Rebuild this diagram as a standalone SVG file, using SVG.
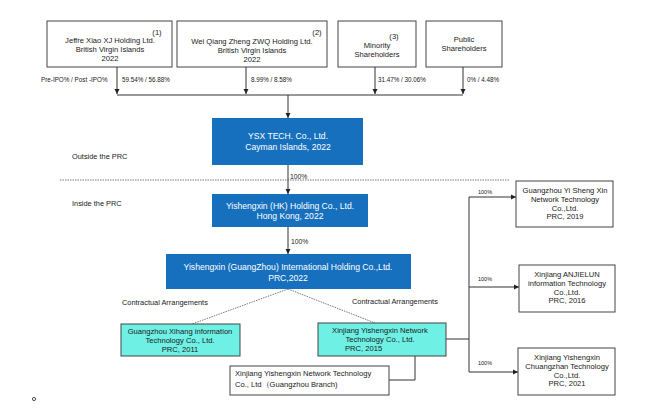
<svg xmlns="http://www.w3.org/2000/svg" width="666" height="411" viewBox="0 0 666 411">
<defs>
<marker id="ah" markerWidth="6" markerHeight="6" refX="5" refY="3" orient="auto" markerUnits="userSpaceOnUse">
<path d="M0,0.5 L5,3 L0,5.5 Z" fill="#222"/>
</marker>
<style>
text{font-family:"Liberation Sans",Arial,sans-serif;fill:#1a1a1a}
.box{fill:#fff;stroke:#444;stroke-width:1}
.blue{fill:#1670bd}
.cyan{fill:#6ff0e4;stroke:#444;stroke-width:1}
.wt{fill:#fff;font-size:8.6px;text-anchor:middle}
.t{font-size:7.6px;text-anchor:middle}
.s{font-size:6.3px}
.ln{fill:none;stroke:#333;stroke-width:1}
.dl{fill:none;stroke:#555;stroke-width:0.8;stroke-dasharray:1.5,1}
</style>
</defs>
<rect width="666" height="411" fill="#fff"/>

<g id="connectors">
<line class="ln" x1="117" y1="67" x2="117" y2="94" marker-end="url(#ah)"/>
<line class="ln" x1="246" y1="67" x2="246" y2="94" marker-end="url(#ah)"/>
<line class="ln" x1="375" y1="67" x2="375" y2="94" marker-end="url(#ah)"/>
<line class="ln" x1="463" y1="67" x2="463" y2="94" marker-end="url(#ah)"/>
<line class="ln" x1="117" y1="95" x2="463" y2="95"/>
<line class="ln" x1="288" y1="95" x2="288" y2="118" marker-end="url(#ah)"/>
<line class="ln" x1="288" y1="165" x2="288" y2="194" marker-end="url(#ah)"/>
<line class="ln" x1="288" y1="227" x2="288" y2="254" marker-end="url(#ah)"/>
<line class="dl" x1="60" y1="180" x2="510" y2="180"/>
<line class="dl" x1="288" y1="289" x2="192" y2="324"/>
<line class="dl" x1="288" y1="289" x2="375" y2="323"/>
<polyline class="ln" points="415,356 415,380 389,380"/>
<line class="ln" x1="446" y1="339" x2="469" y2="339"/>
<line class="ln" x1="469" y1="197" x2="469" y2="372"/>
<line class="ln" x1="469" y1="197" x2="516" y2="197" marker-end="url(#ah)"/>
<line class="ln" x1="469" y1="287" x2="519" y2="287" marker-end="url(#ah)"/>
<line class="ln" x1="469" y1="372" x2="518" y2="372" marker-end="url(#ah)"/>
<text class="s" x="41" y="82">Pre-IPO% / Post -IPO%</text>
<text class="s" x="122" y="82">59.54% / 56.88%</text>
<text class="s" x="251" y="82">8.99% / 8.58%</text>
<text class="s" x="378" y="82">31.47% / 30.06%</text>
<text class="s" x="467" y="82">0% / 4.48%</text>
<text class="s" x="290" y="179" style="font-size:6.8px">100%</text>
<text class="s" x="291" y="244" style="font-size:6.8px">100%</text>
<text class="s" x="478" y="194" style="font-size:5.5px">100%</text>
<text class="s" x="478" y="281" style="font-size:5.5px">100%</text>
<text class="s" x="478" y="365" style="font-size:5.5px">100%</text>
<text x="122" y="305" style="font-size:7.4px">Contractual Arrangements</text>
<text x="352" y="304" style="font-size:7.4px">Contractual Arrangements</text>
<text x="72" y="159" style="font-size:7.4px">Outside the PRC</text>
<text x="72" y="206" style="font-size:7.4px">Inside the PRC</text>
</g>

<g id="jeffre">
<rect class="box" x="47" y="21" width="125" height="46"/>
<text class="t" x="157" y="35">(1)</text>
<text class="t" x="110" y="43">Jeffre Xiao XJ Holding Ltd.</text>
<text class="t" x="110" y="52">British Virgin Islands</text>
<text class="t" x="110" y="61">2022</text>
</g>
<g id="wei">
<rect class="box" x="177" y="21" width="150" height="46"/>
<text class="t" x="317" y="35">(2)</text>
<text class="t" x="252" y="44">Wei Qiang Zheng ZWQ Holding Ltd.</text>
<text class="t" x="252" y="53">British Virgin Islands</text>
<text class="t" x="252" y="62">2022</text>
</g>
<g id="minority">
<rect class="box" x="338" y="21" width="78" height="46"/>
<text class="t" x="394" y="39">(3)</text>
<text class="t" x="377" y="48">Minority</text>
<text class="t" x="377" y="57">Shareholders</text>
</g>
<g id="public">
<rect class="box" x="426" y="21" width="76" height="46"/>
<text class="t" x="464" y="42">Public</text>
<text class="t" x="464" y="51">Shareholders</text>
</g>

<g id="ysx">
<rect class="blue" x="212" y="118" width="151" height="47"/>
<text class="wt" x="288" y="139">YSX TECH. Co., Ltd.</text>
<text class="wt" x="288" y="150">Cayman Islands, 2022</text>
</g>
<g id="hk">
<rect class="blue" x="212" y="194" width="156" height="33"/>
<text class="wt" x="290" y="209">Yishengxin (HK) Holding Co., Ltd.</text>
<text class="wt" x="290" y="219">Hong Kong, 2022</text>
</g>
<g id="gz">
<rect class="blue" x="166" y="254" width="245" height="35"/>
<text class="wt" x="288" y="270">Yishengxin (GuangZhou) International Holding Co.,Ltd.</text>
<text class="wt" x="288" y="281">PRC,2022</text>
</g>

<g id="xihang">
<rect class="cyan" x="121" y="324" width="119" height="32"/>
<text class="t" x="180" y="334">Guangzhou Xihang information</text>
<text class="t" x="180" y="343">Technology Co., Ltd.</text>
<text class="t" x="180" y="352">PRC, 2011</text>
</g>
<g id="xinjiang">
<rect class="cyan" x="318" y="323" width="128" height="33"/>
<text class="t" x="380" y="333">Xinjiang Yishengxin Network</text>
<text class="t" x="380" y="342">Technology Co., Ltd.</text>
<text class="t" x="345" y="351" style="text-anchor:start">PRC, 2015</text>
</g>
<g id="branch">
<rect class="box" x="230" y="366" width="159" height="29"/>
<text class="t" x="235" y="376" style="text-anchor:start">Xinjiang Yishengxin Network Technology</text>
<text class="t" x="235" y="387" style="text-anchor:start">Co., Ltd（Guangzhou Branch)</text>
</g>

<g id="r1">
<rect class="box" x="516" y="181" width="97" height="46"/>
<text class="t" x="565" y="193">Guangzhou Yi Sheng Xin</text>
<text class="t" x="565" y="202">Network Technology</text>
<text class="t" x="565" y="211">Co.,Ltd.</text>
<text class="t" x="565" y="219">PRC, 2019</text>
</g>
<g id="r2">
<rect class="box" x="519" y="265" width="96" height="47"/>
<text class="t" x="567" y="277">Xinjiang ANJIELUN</text>
<text class="t" x="567" y="286">information Technology</text>
<text class="t" x="567" y="295">Co.,Ltd.</text>
<text class="t" x="567" y="303">PRC, 2016</text>
</g>
<g id="r3">
<rect class="box" x="518" y="348" width="97" height="47"/>
<text class="t" x="567" y="360">Xinjiang Yishengxin</text>
<text class="t" x="567" y="369">Chuangzhan Technology</text>
<text class="t" x="567" y="378">Co.,Ltd.</text>
<text class="t" x="567" y="386">PRC, 2021</text>
</g>

<circle cx="34" cy="399" r="1.6" fill="none" stroke="#222" stroke-width="0.8"/>
</svg>
